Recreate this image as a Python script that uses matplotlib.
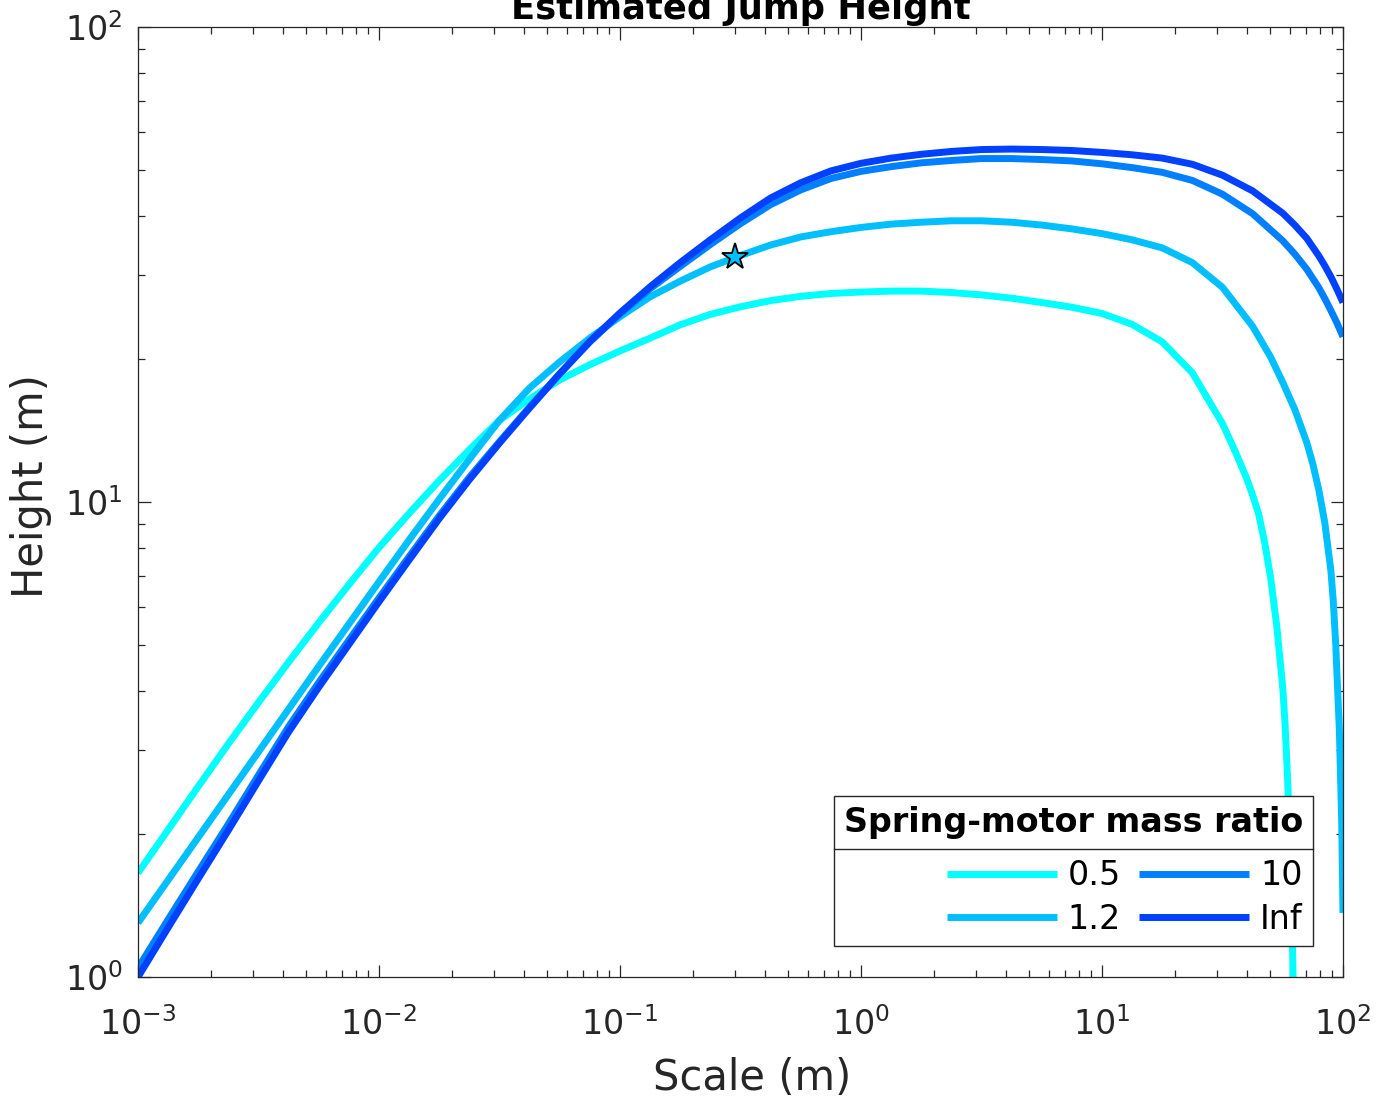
import matplotlib
matplotlib.use("Agg")
import numpy as np
import matplotlib.pyplot as plt
from matplotlib.lines import Line2D
from matplotlib.ticker import LogLocator, NullFormatter

plt.rcParams["font.family"] = ["DejaVu Sans"]

# values, as log10(scale in m) and log10(height in m)
ratio_labels = ["0.5", "1.2", "10", "Inf"]
colors = ["#00FFFF", "#00BFFF", "#0080FF", "#0040FF"]

lscale_05 = [-3.0, -2.875, -2.75, -2.625, -2.5, -2.375, -2.25, -2.125, -2.0,
             -1.875, -1.75, -1.625, -1.5, -1.375, -1.25, -1.125, -1.0, -0.875,
             -0.75, -0.625, -0.5, -0.375, -0.25, -0.125, 0.0, 0.125, 0.25,
             0.375, 0.5, 0.625, 0.75, 0.875, 1.0, 1.125, 1.25, 1.375, 1.5,
             1.55, 1.6, 1.625, 1.65, 1.675, 1.7, 1.725, 1.75, 1.76, 1.77,
             1.78, 1.787, 1.793, 1.8]
lheight_05 = [0.219, 0.310, 0.401, 0.491, 0.578, 0.663, 0.746, 0.826, 0.904,
              0.976, 1.045, 1.110, 1.172, 1.217, 1.257, 1.289, 1.318, 1.345,
              1.373, 1.395, 1.411, 1.424, 1.433, 1.439, 1.442, 1.444, 1.444,
              1.441, 1.436, 1.429, 1.420, 1.410, 1.397, 1.374, 1.337, 1.272,
              1.165, 1.110, 1.050, 1.015, 0.975, 0.915, 0.840, 0.740, 0.610,
              0.530, 0.420, 0.290, 0.160, 0.0, -0.2]

lscale_12 = [-3.0, -2.875, -2.75, -2.625, -2.5, -2.375, -2.25, -2.125, -2.0,
             -1.875, -1.75, -1.625, -1.5, -1.375, -1.25, -1.125, -1.0, -0.875,
             -0.75, -0.625, -0.5, -0.375, -0.25, -0.125, 0.0, 0.125, 0.25,
             0.375, 0.5, 0.625, 0.75, 0.875, 1.0, 1.125, 1.25, 1.375, 1.5,
             1.625, 1.7, 1.75, 1.8, 1.85, 1.875, 1.9, 1.925, 1.95, 1.96,
             1.97, 1.985, 1.995, 2.0]
lheight_12 = [0.114, 0.204, 0.294, 0.384, 0.474, 0.564, 0.654, 0.743, 0.832,
              0.920, 1.006, 1.090, 1.172, 1.240, 1.295, 1.345, 1.390, 1.432,
              1.465, 1.495, 1.519, 1.541, 1.558, 1.569, 1.578, 1.585, 1.589,
              1.592, 1.592, 1.589, 1.583, 1.575, 1.565, 1.552, 1.535, 1.504,
              1.452, 1.370, 1.305, 1.252, 1.195, 1.125, 1.080, 1.025, 0.955,
              0.855, 0.790, 0.700, 0.520, 0.320, 0.135]

lscale_big = [-3.0, -2.875, -2.75, -2.625, -2.5, -2.375, -2.25, -2.125, -2.0,
              -1.875, -1.75, -1.625, -1.5, -1.375, -1.25, -1.125, -1.0, -0.875,
              -0.75, -0.625, -0.5, -0.375, -0.25, -0.125, 0.0, 0.125, 0.25,
              0.375, 0.5, 0.625, 0.75, 0.875, 1.0, 1.125, 1.25, 1.375, 1.5,
              1.625, 1.75, 1.8, 1.85, 1.9, 1.925, 1.95, 1.975, 2.0]
lheight_10 = [0.019, 0.121, 0.222, 0.322, 0.425, 0.527, 0.620, 0.709, 0.798,
              0.885, 0.971, 1.052, 1.127, 1.200, 1.270, 1.337, 1.396, 1.449,
              1.496, 1.542, 1.586, 1.626, 1.657, 1.681, 1.696, 1.706, 1.714,
              1.719, 1.723, 1.723, 1.721, 1.718, 1.712, 1.704, 1.694, 1.677,
              1.648, 1.607, 1.550, 1.522, 1.490, 1.451, 1.428, 1.403, 1.377,
              1.348]
lheight_inf = [0.000, 0.104, 0.207, 0.309, 0.413, 0.516, 0.610, 0.700, 0.790,
               0.878, 0.965, 1.047, 1.124, 1.198, 1.270, 1.338, 1.398, 1.453,
               1.504, 1.552, 1.598, 1.640, 1.672, 1.697, 1.713, 1.724, 1.732,
               1.738, 1.742, 1.743, 1.742, 1.740, 1.736, 1.731, 1.724, 1.711,
               1.688, 1.655, 1.608, 1.583, 1.555, 1.518, 1.497, 1.474, 1.448,
               1.420]

star_scale = 0.30
star_height = 32.8

series = [(lscale_05, lheight_05), (lscale_12, lheight_12),
          (lscale_big, lheight_10), (lscale_big, lheight_inf)]

fig = plt.figure(figsize=(13.95, 11.06), dpi=100)
ax = fig.add_axes([0.0989, 0.1166, 0.8638, 0.859])

for (lx, ly), lab, col in zip(series, ratio_labels, colors):
    ax.plot(10 ** np.array(lx), 10 ** np.array(ly), color=col, linewidth=5,
            label=lab, solid_capstyle="butt")

ax.plot([star_scale], [star_height], marker="*", markersize=20,
        markerfacecolor=colors[1], markeredgecolor="black",
        markeredgewidth=1.3, linestyle="none")

ax.set_xscale("log")
ax.set_yscale("log")
ax.set_xlim(1e-3, 1e2)
ax.set_ylim(1, 100)

axis_col = "#262626"
for sp in ax.spines.values():
    sp.set_color(axis_col)
    sp.set_linewidth(0.9)
ax.xaxis.set_major_locator(LogLocator(base=10, numticks=10))
ax.xaxis.set_minor_locator(LogLocator(base=10, subs=range(2, 10), numticks=20))
ax.yaxis.set_minor_locator(LogLocator(base=10, subs=range(2, 10), numticks=20))
ax.xaxis.set_minor_formatter(NullFormatter())
ax.yaxis.set_minor_formatter(NullFormatter())
ax.tick_params(which="both", direction="in", top=True, right=True,
               color=axis_col, labelcolor=axis_col, width=0.9)
ax.tick_params(which="major", length=9, labelsize=24)
ax.tick_params(which="minor", length=5)
ax.tick_params(axis="x", which="major", pad=22)
ax.tick_params(axis="y", which="major", pad=11)

ax.set_xlabel("Scale (m)", fontsize=30, color=axis_col)
ax.set_ylabel("Height (m)", fontsize=30, color=axis_col)
ax.xaxis.set_label_coords(0.510, -0.084)
ax.yaxis.set_label_coords(-0.071, 0.517)
ax.set_title("Estimated Jump Height", fontsize=25.5, fontweight="bold", pad=6)

leg = ax.legend(ncol=2, loc="lower right", bbox_to_anchor=(0.975, 0.033),
                borderaxespad=0, fontsize=24, title="Spring-motor mass ratio",
                title_fontproperties={"weight": "bold", "size": 24},
                alignment="right", handlelength=3.3, columnspacing=0.55,
                handletextpad=0.33, labelspacing=0.31, fancybox=False,
                framealpha=1, edgecolor=axis_col, borderpad=0.3)
leg.get_frame().set_linewidth(1.0)
# more room between the legend title and its entries
leg._legend_box.sep = 15

# separator between legend title and entries
fig.canvas.draw()
frame_bb = leg.get_frame().get_window_extent()
title_bb = leg.get_title().get_window_extent()
entries_top = max(t.get_window_extent().y1 for t in leg.get_texts())
sep_y = (title_bb.y0 + entries_top) / 2
inv = fig.transFigure.inverted()
x0, y0 = inv.transform((frame_bb.x0, sep_y))
x1, _ = inv.transform((frame_bb.x1, sep_y))
fig.add_artist(Line2D([x0, x1], [y0, y0], color=axis_col, linewidth=1.0))

fig.savefig("out.png", dpi=100)
